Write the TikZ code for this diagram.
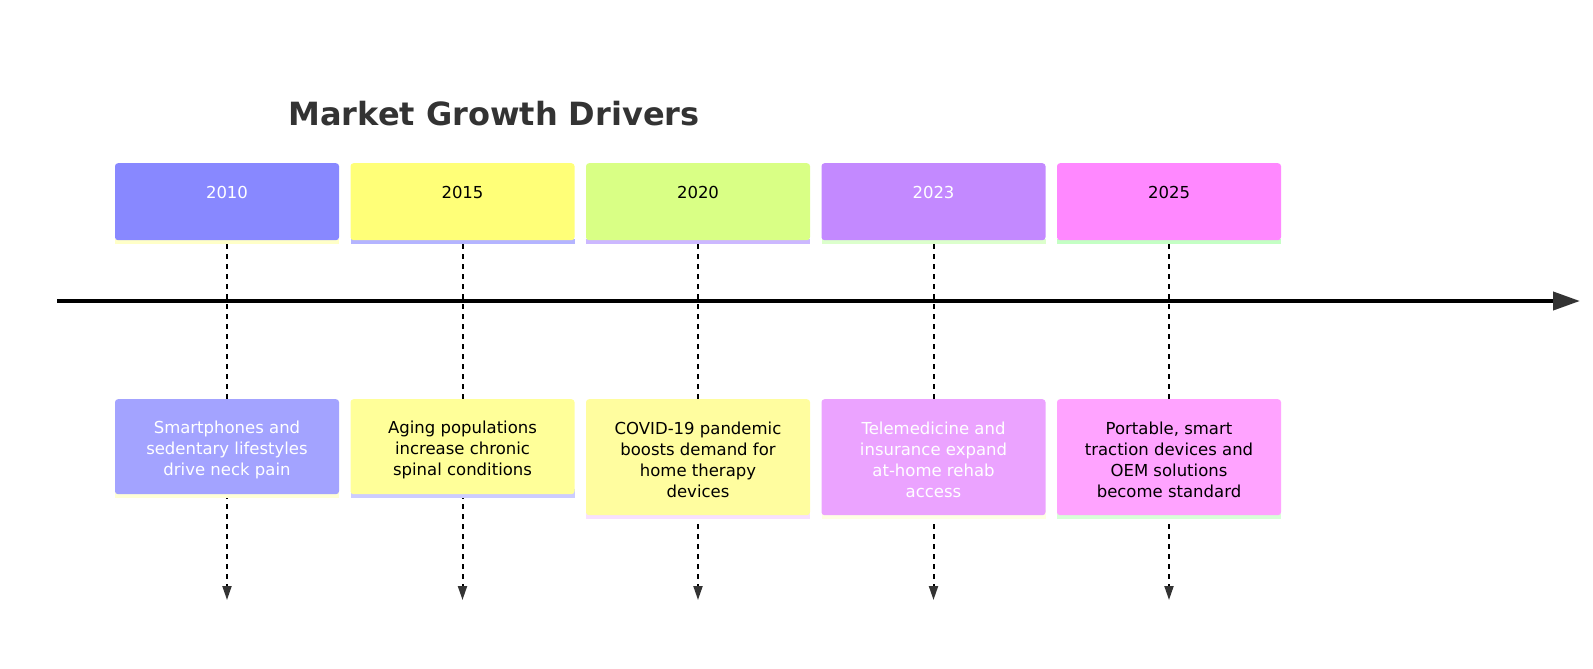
\documentclass[tikz,border=0pt]{standalone}
\usepackage{fontspec}
\setmainfont{DejaVu Sans}
\usetikzlibrary{arrows.meta}
\definecolor{hA}{HTML}{8888FF}\definecolor{eA}{HTML}{A3A3FF}
\definecolor{hB}{HTML}{FFFF78}\definecolor{eB}{HTML}{FFFF99}
\definecolor{hC}{HTML}{D9FF85}\definecolor{eC}{HTML}{FFFD9F}
\definecolor{hD}{HTML}{C389FF}\definecolor{eD}{HTML}{EBA3FF}
\definecolor{hE}{HTML}{FF88FF}\definecolor{eE}{HTML}{FFA3FF}
\definecolor{bYel}{HTML}{FFFFC8}\definecolor{bLav}{HTML}{B4B4FF}
\definecolor{bLav2}{HTML}{CCB8FF}\definecolor{bGrn}{HTML}{DCFFCC}
\definecolor{bGrn2}{HTML}{C4FFC4}
\definecolor{ebYel}{HTML}{FFFFD6}\definecolor{ebLav}{HTML}{CCCCFF}
\definecolor{ebPink}{HTML}{F8E0FF}\definecolor{ebYel2}{HTML}{FFFFE4}
\definecolor{ebGrn}{HTML}{D8FFD8}
\definecolor{tgrey}{HTML}{333333}
\tikzset{
  yearbox/.style={rectangle, rounded corners=3pt, minimum width=224pt, minimum height=77pt, inner sep=0pt, anchor=north},
  eventbox/.style={rectangle, rounded corners=3pt, minimum width=224pt, inner sep=0pt, anchor=north},
  yeartxt/.style={font=\fontsize{16.5pt}{20pt}\selectfont},
  evtxt/.style={font=\fontsize{16.5pt}{21pt}\selectfont, align=center},
  conn/.style={draw=black, line width=2pt, dash pattern=on 5pt off 5pt, -{Triangle[length=14pt,width=9pt,color=tgrey]}},
}
\begin{document}
\begin{tikzpicture}[x=1pt,y=-1pt]
\useasboundingbox (0,0) rectangle (1593,669);
\node[font=\fontsize{32pt}{36pt}\selectfont\bfseries, text=tgrey] (title) at (494,114) {Market Growth Drivers};
% axis
\coordinate (axs) at (57,301);
\coordinate (axe) at (1580,301);
\draw[line width=4pt, -{Triangle[length=27pt,width=18pt,color=tgrey]}] (axs) -- (axe);
% columns
\foreach \i/\x/\yr/\hc/\ec/\hb/\eb/\tc/\eh/\txt in {
  a/227/2010/hA/eA/bYel/ebYel/white/95/{Smartphones and\\sedentary lifestyles\\drive neck pain},
  b/462.5/2015/hB/eB/bLav/ebLav/black/95/{Aging populations\\increase chronic\\spinal conditions},
  c/698/2020/hC/eC/bLav2/ebPink/black/116/{COVID-19 pandemic\\boosts demand for\\home therapy\\devices},
  d/933.5/2023/hD/eD/bGrn/ebYel2/white/116/{Telemedicine and\\insurance expand\\at-home rehab\\access},
  e/1169/2025/hE/eE/bGrn2/ebGrn/black/116/{Portable, smart\\traction devices and\\OEM solutions\\become standard}}{
  \coordinate (end\i) at (\x,600);
  \coordinate (top\i) at (\x,244);
  \draw[conn] (top\i) -- (end\i);
  \fill[\hb] (\x-112,239) rectangle (\x+112,244);
  \node[yearbox, fill=\hc] (y\i) at (\x,163) {};
  \node[yeartxt, text=\tc] (yt\i) at (\x,192) {\yr};
  \fill[\eb] (\x-112,399+\eh-5) rectangle (\x+112,399+\eh+4);
  \node[eventbox, fill=\ec, minimum height=\eh pt] (ev\i) at (\x,399) {};
  \node[evtxt, text=\tc] (et\i) at (\x,402+\eh/2) {\txt};
}
\end{tikzpicture}
\end{document}
